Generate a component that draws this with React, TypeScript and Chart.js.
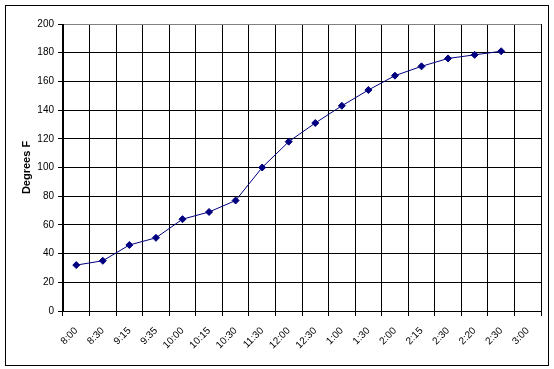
import React, { useEffect, useRef } from "react";
import { Chart, registerables } from "chart.js";

Chart.register(...registerables);

const categories = [
  "8:00", "8:30", "9:15", "9:35", "10:00", "10:15", "10:30", "11:30", "12:00",
  "12:30", "1:00", "1:30", "2:00", "2:15", "2:30", "2:20", "2:30", "3:00",
];
const temperatures: (number | null)[] = [
  32, 35, 46, 51, 64, 69, 77, 100, 118, 131, 143, 154, 164, 170.5, 176, 178.5, 181, null,
];
const yTitle = "Degrees F";
const yMin = 0;
const yMax = 200;
const yStep = 20;

const FONT = "'Liberation Sans', Arial, sans-serif";

const borderPlugin = {
  id: "outerBorder",
  beforeDraw(chart: any) {
    const ctx = chart.ctx;
    ctx.save();
    ctx.fillStyle = "#ffffff";
    ctx.fillRect(0, 0, chart.width, chart.height);
    ctx.strokeStyle = "#000000";
    ctx.lineWidth = 1;
    ctx.strokeRect(5.5, 5.5, 543, 360);
    ctx.restore();
  },
};

export default function App() {
  const ref = useRef<HTMLCanvasElement | null>(null);

  useEffect(() => {
    if (!ref.current) return;
    const chart = new Chart(ref.current, {
      type: "line",
      data: {
        labels: categories,
        datasets: [
          {
            data: temperatures,
            borderColor: "#000080",
            backgroundColor: "#000080",
            borderWidth: 1,
            pointStyle: "rectRot",
            pointRadius: 3.5,
            pointBorderWidth: 1,
            pointBackgroundColor: "#000080",
            pointBorderColor: "#000080",
            tension: 0,
            spanGaps: false,
          },
        ],
      },
      options: {
        responsive: false,
        animation: false,
        devicePixelRatio: 1,
        layout: { padding: { left: 16, top: 24, right: 13, bottom: 6 } },
        plugins: {
          legend: { display: false },
          tooltip: { enabled: false },
        },
        scales: {
          x: {
            type: "category",
            offset: true,
            afterFit: (scale: any) => {
              scale.height = 52;
            },
            grid: {
              offset: true,
              color: (ctx: any) => (ctx.index === categories.length ? "#808080" : "#000000"),
              tickColor: "#000000",
              lineWidth: 1,
              tickLength: 5,
              drawTicks: true,
            },
            border: { color: "#000000", width: 1 },
            ticks: {
              autoSkip: false,
              maxRotation: 45,
              minRotation: 45,
              padding: 9,
              color: "#000000",
              font: { family: FONT, size: 10 },
            },
          },
          y: {
            min: yMin,
            max: yMax,
            afterFit: (scale: any) => {
              scale.width = 47;
            },
            grid: {
              color: (ctx: any) => (ctx.tick && ctx.tick.value === yMax ? "#808080" : "#000000"),
              tickColor: "#000000",
              lineWidth: 1,
              tickLength: 5,
            },
            border: { color: "#000000", width: 1 },
            ticks: {
              stepSize: yStep,
              padding: 4,
              color: "#000000",
              font: { family: FONT, size: 10 },
            },
            title: {
              display: true,
              text: yTitle,
              color: "#000000",
              font: { family: FONT, size: 11, weight: "bold" },
              padding: { top: 4, bottom: 4 },
            },
          },
        },
      },
      plugins: [borderPlugin],
    });
    return () => chart.destroy();
  }, []);

  return (
    <div style={{ position: "absolute", left: 0, top: 0, width: 554, height: 369 }}>
      <canvas ref={ref} width={554} height={369} style={{ width: 554, height: 369 }} />
    </div>
  );
}
